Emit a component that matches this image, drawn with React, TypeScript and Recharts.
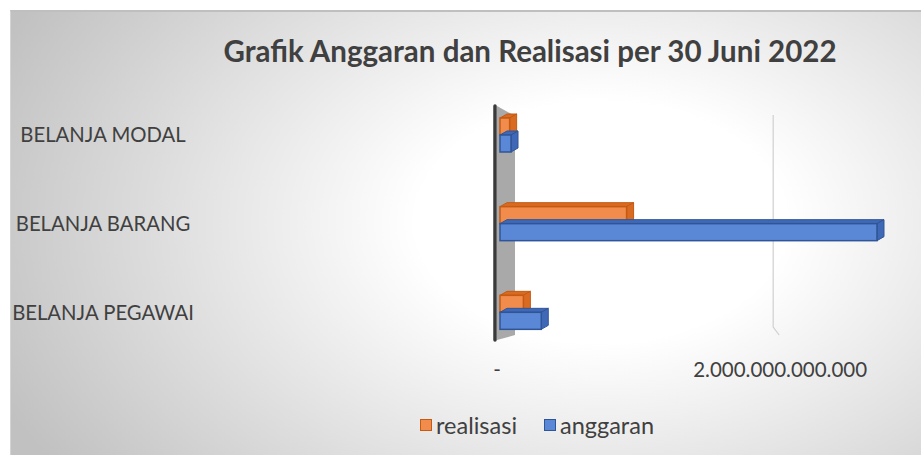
import React from 'react';
import { BarChart, Bar, XAxis, YAxis, CartesianGrid, Legend } from 'recharts';

const categories = ['BELANJA MODAL', 'BELANJA BARANG', 'BELANJA PEGAWAI'];
const realisasi = [0.07e12, 0.92e12, 0.17e12];
const anggaran = [0.08e12, 2.74e12, 0.3e12];
const xTicks = [0, 2e12];
const seriesNames = ['realisasi', 'anggaran'];
const title = 'Grafik Anggaran dan Realisasi per 30 Juni 2022';

const data = categories.map((c, i) => ({ name: c, realisasi: realisasi[i], anggaran: anggaran[i] }));

const FONT = 'Lato, "Liberation Sans", sans-serif';
const TEXT = '#404040';
const SERIES_STYLE: Record<string, { fill: string; stroke: string; side: string }> = {
  realisasi: { fill: '#f28c4c', stroke: '#c55a11', side: '#d96a22' },
  anggaran: { fill: '#5b88d6', stroke: '#2f5597', side: '#3f69b6' },
};

const fmt = (v: number) =>
  v === 0 ? '-' : Math.round(v).toString().replace(/\B(?=(\d{3})+(?!\d))/g, '.');

const make3D = (fill: string, stroke: string, side: string) => (props: any) => {
  const { x, y, width, height } = props;
  if (width == null || height == null) return null;
  const dx = 7;
  const dy = -4;
  return (
    <g>
      <polygon
        points={`${x},${y} ${x + dx},${y + dy} ${x + width + dx},${y + dy} ${x + width},${y}`}
        fill={side}
        stroke={stroke}
        strokeWidth={1}
      />
      <polygon
        points={`${x + width},${y} ${x + width + dx},${y + dy} ${x + width + dx},${y + height + dy} ${x + width},${y + height}`}
        fill={side}
        stroke={stroke}
        strokeWidth={1}
      />
      <rect x={x} y={y} width={width} height={height} fill={fill} stroke={stroke} strokeWidth={1.5} />
    </g>
  );
};

const OrangeBar = make3D(SERIES_STYLE.realisasi.fill, SERIES_STYLE.realisasi.stroke, SERIES_STYLE.realisasi.side);
const BlueBar = make3D(SERIES_STYLE.anggaran.fill, SERIES_STYLE.anggaran.stroke, SERIES_STYLE.anggaran.side);

const CatTick = (props: any) => {
  const { y, payload } = props;
  return (
    <text x={103} y={y} dy={7} textAnchor="middle" fontSize={20.3} fill={TEXT} fontFamily={FONT}>
      {payload.value}
    </text>
  );
};

const ValTick = (props: any) => {
  const { x, y, payload } = props;
  const off = payload.value === 0 ? -3 : 5;
  return (
    <text x={x + off} y={y} dy={14} textAnchor="middle" fontSize={20.5} fill={TEXT} fontFamily={FONT}>
      {fmt(payload.value)}
    </text>
  );
};

// Vertical grid lines: the one at zero is drawn as the 3D side wall, the next as a thin gridline
const VerticalGridLine = (props: any) => {
  const { x1, y1, y2, index } = props;
  if (index === 0) {
    const top = y1 + 15;
    const bot = y2 - 17;
    return (
      <g key={`v-${index}`}>
        <polygon
          points={`${x1 - 3},${top} ${x1 + 15},${top + 10} ${x1 + 15},${bot - 5} ${x1 - 3},${bot}`}
          fill="#a9a9a9"
        />
        <line x1={x1 - 5} y1={top} x2={x1 - 5} y2={bot} stroke="#3a3a3a" strokeWidth={3.5} strokeLinecap="round" />
      </g>
    );
  }
  if (index !== 1) return <g key={`v-${index}`} />;
  const top = y1 + 24;
  const bot = y2 - 30;
  return (
    <polyline
      key={`v-${index}`}
      points={`${x1 - 2},${top} ${x1 - 2},${bot} ${x1 + 4},${bot + 8}`}
      fill="none"
      stroke="#d0d0d0"
      strokeWidth={1.2}
    />
  );
};

const LegendContent = () => (
  <div style={{ display: 'flex', alignItems: 'center', fontFamily: FONT, fontSize: 23.5, color: TEXT, lineHeight: '26px' }}>
    {seriesNames.map((name) => {
      const s = SERIES_STYLE[name];
      return (
        <div key={name} style={{ display: 'flex', alignItems: 'center', width: 124 }}>
          <span
            style={{
              display: 'inline-block',
              width: 10,
              height: 10,
              background: s.fill,
              border: `1.5px solid ${s.stroke}`,
              marginRight: 4,
            }}
          />
          <span>{name}</span>
        </div>
      );
    })}
  </div>
);

export default function App() {
  return (
    <div style={{ position: 'fixed', left: 0, top: 0, width: 921, height: 455, overflow: 'hidden', background: '#ffffff' }}>
      <div
        style={{
          position: 'absolute',
          left: 10,
          top: 10,
          width: 940,
          height: 470,
          borderTop: '2px solid #bfbfbf',
          borderLeft: '1px solid #d4d4d4',
          background:
            'radial-gradient(ellipse 660px 430px at 590px 210px, #ffffff 0%, #ffffff 28%, #c1c1c1 100%)',
        }}
      />
      <div
        style={{
          position: 'absolute',
          left: 0,
          top: 32,
          width: 1060,
          textAlign: 'center',
          fontFamily: FONT,
          fontWeight: 700,
          fontSize: 29.5,
          lineHeight: '38px',
          color: TEXT,
        }}
      >
        {title}
      </div>
      <div style={{ position: 'absolute', left: 0, top: 0 }}>
        <BarChart
          width={921}
          height={455}
          data={data}
          layout="vertical"
          margin={{ top: 91, right: 22, bottom: 17, left: 10 }}
          barSize={17}
          barGap={0}
        >
          <CartesianGrid horizontal={false} vertical={VerticalGridLine} stroke="#d0d0d0" />
          <XAxis
            type="number"
            domain={[0, 2.9e12]}
            ticks={xTicks}
            tickFormatter={fmt}
            axisLine={false}
            tickLine={false}
            tickMargin={0}
            height={55}
            tick={<ValTick />}
          />
          <YAxis
            type="category"
            dataKey="name"
            width={490}
            axisLine={false}
            tickLine={false}
            tick={<CatTick />}
          />
          <Bar dataKey={seriesNames[0]} name={seriesNames[0]} isAnimationActive={false} shape={<OrangeBar />} />
          <Bar dataKey={seriesNames[1]} name={seriesNames[1]} isAnimationActive={false} shape={<BlueBar />} />
          <Legend verticalAlign="bottom" content={<LegendContent />} wrapperStyle={{ left: 420, width: 300 }} />
        </BarChart>
      </div>
    </div>
  );
}
